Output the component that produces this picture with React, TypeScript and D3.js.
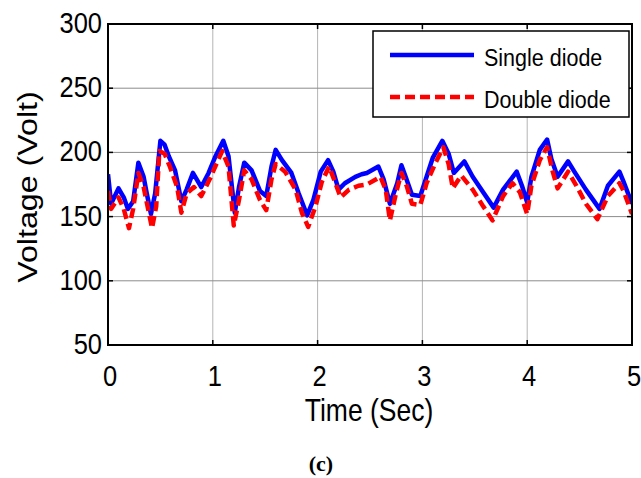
import React from "react";
import * as d3 from "d3";

const singleTime = [0,0.03,0.10,0.15,0.19,0.24,0.29,0.34,0.37,0.41,0.45,0.50,0.54,0.58,0.64,0.70,0.75,0.81,0.89,0.96,1.02,1.10,1.15,1.21,1.25,1.30,1.37,1.45,1.51,1.56,1.60,1.66,1.75,1.82,1.90,1.96,2.03,2.10,2.15,2.20,2.26,2.36,2.42,2.47,2.58,2.63,2.69,2.76,2.80,2.84,2.90,2.98,3.04,3.10,3.19,3.25,3.30,3.40,3.48,3.58,3.68,3.77,3.90,3.95,4.00,4.04,4.12,4.19,4.23,4.29,4.39,4.45,4.56,4.69,4.77,4.88,4.92,5.0];
const singleVolt = [183,160,172,165,156,162,192,181,168,152,168,209,206,197,186,162,171,184,173,184,196,209,197,153,173,192,186,170,166,189,202,194,184,168,151,163,185,194,185,171,176,181,183,184,189,179,160,176,190,181,167,166,181,196,209,199,184,193,181,169,157,171,185,174,161,181,202,210,195,181,193,185,171,156,174,185,177,160];
const doubleTime = [0,0.03,0.10,0.15,0.20,0.24,0.29,0.34,0.37,0.42,0.46,0.49,0.54,0.59,0.66,0.70,0.75,0.82,0.89,0.97,1.05,1.09,1.15,1.20,1.25,1.30,1.37,1.45,1.51,1.56,1.60,1.69,1.79,1.85,1.91,1.98,2.04,2.11,2.17,2.22,2.30,2.39,2.47,2.60,2.65,2.69,2.75,2.80,2.85,2.90,2.98,3.04,3.12,3.20,3.25,3.29,3.37,3.48,3.58,3.67,3.77,3.86,3.93,4.00,4.04,4.12,4.19,4.24,4.29,4.39,4.47,4.56,4.67,4.77,4.88,4.92,5.0];
const doubleVolt = [170,156,165,156,141,156,184,173,161,141,158,201,199,189,173,153,168,173,166,179,194,201,189,143,163,186,179,163,155,179,191,185,171,153,142,158,177,189,176,165,171,174,175,181,171,147,169,184,174,160,159,176,191,204,191,172,182,171,158,147,166,176,169,152,174,194,204,186,172,185,174,160,148,166,176,170,152];

const xTicks = [0, 1, 2, 3, 4, 5];
const yTicks = [50, 100, 150, 200, 250, 300];
const seriesNames = ["Single diode", "Double diode"];

const W = 641, H = 478;
const L = 108, R = 632, T = 24, B = 345;
const FONT = "'Liberation Sans', Arial, sans-serif";

export default function App() {
  const x = d3.scaleLinear().domain([0, 5]).range([L, R]);
  const y = d3.scaleLinear().domain([50, 300]).range([B, T]);
  const line = d3.line<[number, number]>().x(d => x(d[0])).y(d => y(d[1]));
  const singleData = d3.zip(singleTime, singleVolt) as [number, number][];
  const doubleData = d3.zip(doubleTime, doubleVolt) as [number, number][];
  const k = 1.15;

  return (
    <svg width={W} height={H} style={{ position: "absolute", left: 0, top: 0, background: "#fff" }}>
      <defs>
        <clipPath id="plotclip">
          <rect x={L} y={T} width={R - L} height={B - T} />
        </clipPath>
      </defs>
      <rect x={0} y={0} width={W} height={H} fill="#fff" />
      {xTicks.map(t => (
        <line key={"gx" + t} x1={x(t)} x2={x(t)} y1={T} y2={B} stroke="#b4b4b4" strokeWidth={1} />
      ))}
      {yTicks.map(t => (
        <line key={"gy" + t} x1={L} x2={R} y1={y(t)} y2={y(t)} stroke="#8c8c8c" strokeWidth={1} />
      ))}
      <g clipPath="url(#plotclip)">
        <path d={line(singleData) || ""} fill="none" stroke="#0000ff" strokeWidth={4.5} strokeLinejoin="round" />
        <path d={line(doubleData) || ""} fill="none" stroke="#ff0000" strokeWidth={4.5} strokeDasharray="10,5" strokeLinejoin="round" />
      </g>
      {xTicks.map(t => (
        <g key={"tx" + t}>
          <line x1={x(t)} x2={x(t)} y1={B} y2={B - 5} stroke="#000" strokeWidth={1.5} />
          <line x1={x(t)} x2={x(t)} y1={T} y2={T + 5} stroke="#000" strokeWidth={1.5} />
        </g>
      ))}
      {yTicks.map(t => (
        <g key={"ty" + t}>
          <line x1={L} x2={L + 5} y1={y(t)} y2={y(t)} stroke="#000" strokeWidth={1.5} />
          <line x1={R} x2={R - 5} y1={y(t)} y2={y(t)} stroke="#000" strokeWidth={1.5} />
        </g>
      ))}
      <rect x={L} y={T} width={R - L} height={B - T} fill="none" stroke="#000" strokeWidth={2} />
      {yTicks.map(t => (
        <text key={"ly" + t} transform={`translate(102,${y(t) + 9}) scale(1,${k})`} textAnchor="end"
          fontFamily={FONT} fontSize={25.5} fill="#000">{t}</text>
      ))}
      {xTicks.map(t => (
        <text key={"lx" + t} transform={`translate(${x(t) + 2},386) scale(1,${k})`} textAnchor="middle"
          fontFamily={FONT} fontSize={25.5} fill="#000">{t}</text>
      ))}
      <text transform={`translate(369,421) scale(1,${k})`} textAnchor="middle" fontFamily={FONT} fontSize={26.5} fill="#000">Time (Sec)</text>
      <text transform={`translate(37,187) rotate(-90) scale(${k},1)`} textAnchor="middle" fontFamily={FONT} fontSize={28} fill="#000">Voltage (Volt)</text>
      <text x={321} y={471} textAnchor="middle" fontFamily="'Liberation Serif', 'Times New Roman', serif" fontWeight="bold" fontSize={22} fill="#000">(c)</text>
      <rect x={373} y={31} width={256} height={86} fill="#fff" stroke="#000" strokeWidth={1.5} />
      <line x1={390} x2={474} y1={55} y2={55} stroke="#0000ff" strokeWidth={4.5} />
      <line x1={390} x2={474} y1={97} y2={97} stroke="#ff0000" strokeWidth={4.5} strokeDasharray="10,5" />
      <text transform={`translate(484,66) scale(1,${k})`} fontFamily={FONT} fontSize={21.5} fill="#000">{seriesNames[0]}</text>
      <text transform={`translate(484,108) scale(1,${k})`} fontFamily={FONT} fontSize={21.5} fill="#000">{seriesNames[1]}</text>
    </svg>
  );
}
